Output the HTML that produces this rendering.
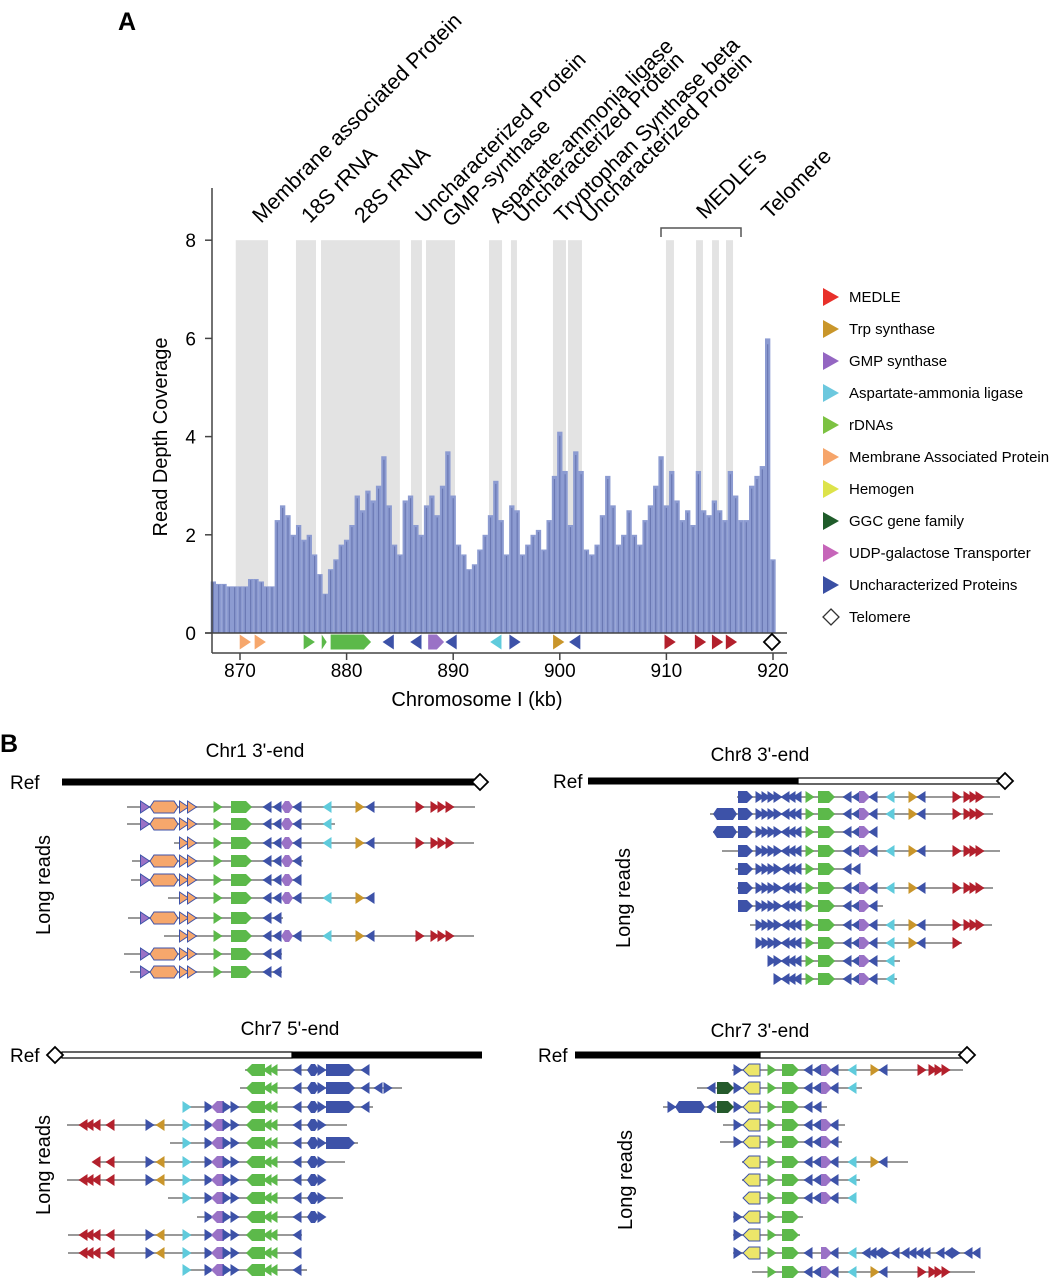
<!DOCTYPE html>
<html><head><meta charset="utf-8">
<style>
html,body{margin:0;padding:0;background:#fff;}
svg{display:block;font-family:"Liberation Sans",sans-serif;}
</style></head>
<body>
<svg id="fig" width="1063" height="1280" viewBox="0 0 1063 1280" xmlns="http://www.w3.org/2000/svg">
<g id="pa"></g>
<g id="pb"></g>
</svg>
<script>
// ---------- Panel A data ----------
const covStart = 867.5; // kb, step 0.5
const coverage = [1.05,1.0,1.0,0.95,0.95,0.95,0.95,1.1,1.1,1.05,0.95,0.95,
2.3,2.6,2.4,2.0,2.2,1.9,2.0,1.6,1.2,0.8,
1.3,1.5,1.8,1.9,2.2,2.8,2.5,2.9,2.7,3.0,3.6,2.6,1.8,1.6,
2.7,2.8,2.2,2.0,2.6,2.8,2.4,3.0,3.7,2.8,1.8,1.6,1.3,1.4,1.7,2.0,2.4,3.1,2.3,1.6,2.6,2.5,1.6,1.8,2.0,2.1,1.7,2.3,3.2,4.1,3.3,2.2,3.7,3.3,1.7,1.6,1.8,2.4,3.2,2.6,1.8,2.0,2.5,2.0,1.8,2.3,2.6,3.0,3.6,2.6,3.3,2.7,2.3,2.5,2.2,3.3,2.5,2.4,2.7,2.5,2.3,3.3,2.8,2.3,2.3,3.0,3.2,3.4,6.0,1.5];
const shadeStart = [869.6,875.25,877.6,886.04,887.45,893.36,895.42,899.36,900.77,909.96,912.78,914.28,915.59];
const shadeEnd   = [872.63,877.13,885.0,887.07,890.17,894.58,895.98,900.58,902.08,910.71,913.43,914.93,916.25];
const yTicks = [0,2,4,6,8];
const xTicks = [870,880,890,900,910,920];
const geneKb =   [870.5,871.9,876.5,877.9,880.35,883.9,886.5,888.35,889.8,894.0,895.8,899.9,901.4,910.35,913.2,914.8,916.1];
const geneType = ['R','R','R','r','BR','L','L','BR','L','L','R','R','L','R','R','R','R'];
const geneCol =  ['or','or','gr','gr','gr','bl','bl','pu','bl','cy','bl','go','bl','rd','rd','rd','rd'];
const geneW =    [0,0,0,0,1.85,0,0,0.7,0,0,0,0,0,0,0,0,0];
const labelText = ["Membrane associated Protein","18S rRNA","28S rRNA","Uncharacterized Protein","GMP-synthase","Aspartate-ammonia ligase","Uncharacterized Protein","Tryptophan Synthase beta","Uncharacterized Protein","MEDLE's","Telomere"];
const labelX = [261,310,363,424,451,498,522,563,590,705,770];
const labelY = [224,224,224,224,228,224,224,224,224,220,220];
const legendText = ["MEDLE","Trp synthase","GMP synthase","Aspartate-ammonia ligase","rDNAs","Membrane Associated Protein","Hemogen","GGC gene family","UDP-galactose Transporter","Uncharacterized Proteins","Telomere"];
const legendCol = ["#e8302a","#c9962a","#9466c2","#6cc8de","#7cc242","#f6a56a","#dde34a","#1f5c2a","#c665b9","#3a4fa3",null];

const COL = {bl:'#3d52a8',gr:'#5cb94a',pu:'#9a72c6',cy:'#5fcbdc',go:'#c9952a',rd:'#b3202c',or:'#f6a76c',ye:'#ede66a',dg:'#255a2c'};
const NS='http://www.w3.org/2000/svg';
function mk(tag,attrs,parent){const e=document.createElementNS(NS,tag);for(const k in attrs)e.setAttribute(k,attrs[k]);parent.appendChild(e);return e;}
const xs = kb => 240 + (kb-870)*10.66;
const ys = v => 633 - v*49.1;
const pa = document.getElementById('pa');

let t = mk('text',{x:118,y:30,'font-size':25,'font-weight':'bold'},pa); t.textContent='A';
 

shadeStart.forEach((s,i)=>{
  const r=mk('rect',{x:xs(s),y:ys(8),width:xs(shadeEnd[i])-xs(s),height:ys(0)-ys(8),fill:'#e3e3e3'},pa);
   
});
const bw = 0.5*10.66;
coverage.forEach((v,i)=>{
  const kb = covStart + i*0.5 - 0.25;
  const r=mk('rect',{x:xs(kb),y:ys(v),width:bw,height:ys(0)-ys(v),fill:'#8c9bd1'},pa);
   
  mk('line',{x1:xs(kb)+bw*0.5,x2:xs(kb)+bw*0.5,y1:ys(v*0.98),y2:ys(0),stroke:'#6a78b3','stroke-width':1.2},pa);
});
mk('line',{x1:212,y1:188,x2:212,y2:653,stroke:'#444','stroke-width':1.5},pa);
mk('line',{x1:205,y1:633,x2:787,y2:633,stroke:'#444','stroke-width':1.5},pa);
mk('line',{x1:212,y1:653,x2:787,y2:653,stroke:'#444','stroke-width':1.5},pa);
yTicks.forEach(v=>{
  mk('line',{x1:205,x2:212,y1:ys(v),y2:ys(v),stroke:'#444','stroke-width':1.5},pa);
  const tt=mk('text',{x:196,y:ys(v)+7,'font-size':19,'text-anchor':'end'},pa); tt.textContent=v;
   
});
xTicks.forEach(v=>{
  mk('line',{x1:xs(v),x2:xs(v),y1:653,y2:660,stroke:'#444','stroke-width':1.5},pa);
  const tt=mk('text',{x:xs(v),y:677,'font-size':19,'text-anchor':'middle'},pa); tt.textContent=v;
   
});
t=mk('text',{x:477,y:706,'font-size':20,'text-anchor':'middle'},pa); t.textContent='Chromosome I (kb)';
 
t=mk('text',{x:0,y:0,'font-size':20,'text-anchor':'middle',transform:'translate(167,437) rotate(-90)'},pa); t.textContent='Read Depth Coverage';
 

function glyph(parent,type,x,y,col,w,outline,sc){
  sc=sc||1;
  const h=6*sc, a=4.5*sc; let d;
  if(type==='R') d=`M${x-a},${y-h}L${x+a},${y}L${x-a},${y+h}Z`;
  else if(type==='r') d=`M${x-2*sc},${y-h}L${x+2*sc},${y}L${x-2*sc},${y+h}Z`;
  else if(type==='L') d=`M${x+a},${y-h}L${x-a},${y}L${x+a},${y+h}Z`;
  else if(type==='BR') d=`M${x-w},${y-h}L${x+w-5*sc},${y-h}L${x+w+1},${y}L${x+w-5*sc},${y+h}L${x-w},${y+h}Z`;
  else if(type==='BL') d=`M${x+w},${y-h}L${x-w+5*sc},${y-h}L${x-w-1},${y}L${x-w+5*sc},${y+h}L${x+w},${y+h}Z`;
  else if(type==='H') d=`M${x-w},${y}L${x-w+4},${y-h}L${x+w-4},${y-h}L${x+w},${y}L${x+w-4},${y+h}L${x-w+4},${y+h}Z`;
  else if(type==='D') d=`M${x},${y-8}L${x+8},${y}L${x},${y+8}L${x-8},${y}Z`;
  return mk('path',{d:d,fill:type==='D'?'#fff':col,stroke:outline?'#3d52a8':(type==='D'?'#000':'none'),'stroke-width':type==='D'?1.8:1},parent);
}
geneKb.forEach((kb,i)=>{
  const p=glyph(pa,geneType[i],xs(kb),642,COL[geneCol[i]],geneW[i]*10.66,0,1.25);
   
});
t=glyph(pa,'D',xs(919.9),642,null,0);  

labelText.forEach((s,i)=>{
  const tt=mk('text',{x:labelX[i],y:labelY[i],'font-size':21.5,transform:`rotate(-45 ${labelX[i]} ${labelY[i]})`},pa); tt.textContent=s;
   
});
t=mk('path',{d:'M661,237V228H741V237',fill:'none',stroke:'#555','stroke-width':1.5},pa);
 

legendText.forEach((s,i)=>{
  const y=297+i*32;
  let m;
  if(legendCol[i]) m=mk('path',{d:`M823,${y-9}L839,${y}L823,${y+9}Z`,fill:legendCol[i]},pa);
  else m=mk('path',{d:`M831,${y-8}L839,${y}L831,${y+8}L823,${y}Z`,fill:'#fff',stroke:'#333','stroke-width':1.3},pa);
   
  const tt=mk('text',{x:849,y:y+5,'font-size':15},pa); tt.textContent=s;
   
});

// ---------- Panel B ----------
const pb=document.getElementById('pb');
t=mk('text',{x:0,y:752,'font-size':25,'font-weight':'bold'},pb); t.textContent='B';
 

const tplChr1 = [['R',145,0,'pu',1],['H',164,14,'or',1],['R',184,0,'or',1],['R',192,0,'or',1],['R',218,0,'gr'],['BR',241,10,'gr'],['L',267,0,'bl'],['L',277,0,'bl'],['H',287,6,'pu'],['L',297,0,'bl'],['L',327,0,'cy'],['R',360,0,'go'],['L',370,0,'bl'],['R',420,0,'rd'],['R',435,0,'rd'],['R',442,0,'rd'],['R',450,0,'rd']];
const readsChr1 = [[127,475,807],[127,335,824],[174,474,843],[132,303,861],[131,299,880],[168,374,898],[128,283,918],[164,474,936],[124,282,954],[130,282,972]];
const tplChr8 = [['H',725,12,'bl'],['BR',745,7,'bl'],['R',760,0,'bl'],['R',766,0,'bl'],['R',772,0,'bl'],['R',778,0,'bl'],['L',785,0,'bl'],['L',791,0,'bl'],['L',797,0,'bl'],['R',810,0,'gr'],['BR',826,8,'gr'],['L',847,0,'bl'],['L',856,0,'bl'],['BR',864,5,'pu'],['L',873,0,'bl'],['L',890,0,'cy'],['R',913,0,'go'],['L',921,0,'bl'],['R',957,0,'rd'],['R',968,0,'rd'],['R',974,0,'rd'],['R',980,0,'rd']];
const readsChr8 = [[737,1000,797],[710,993,814],[713,873,832],[722,1000,851],[735,860,869],[737,993,888],[738,883,906],[750,992,925],[758,962,943],[770,900,961],[775,897,979]];
const tplChr7a = [['L',83,0,'rd'],['L',89,0,'rd'],['L',96,0,'rd'],['L',110,0,'rd'],['R',150,0,'bl'],['L',160,0,'go'],['R',187,0,'cy'],['R',209,0,'bl'],['BL',218,6,'pu'],['R',227,0,'bl'],['R',235,0,'bl'],['BL',256,9,'gr'],['L',267,0,'gr'],['L',273,0,'gr'],['L',297,0,'bl'],['H',313,6,'bl'],['R',322,0,'bl'],['BR',340,14,'bl'],['L',365,0,'bl'],['L',378,0,'bl'],['R',388,0,'bl']];
const readsChr7a = [[245,367,1070],[240,402,1088],[188,373,1107],[67,347,1125],[170,358,1143],[95,345,1162],[67,325,1180],[168,343,1198],[197,325,1217],[68,302,1235],[68,297,1253],[185,307,1270]];
const tplChr7b = [['R',672,0,'bl'],['H',690,15,'bl'],['L',711,0,'bl'],['BR',725,8,'dg'],['R',738,0,'bl'],['BL',752,8,'ye',1],['R',772,0,'gr'],['BR',790,8,'gr'],['L',808,0,'bl'],['L',817,0,'bl'],['BR',826,5,'pu'],['L',834,0,'bl'],['L',852,0,'cy'],['R',875,0,'go'],['L',883,0,'bl'],['R',922,0,'rd'],['R',933,0,'rd'],['R',939,0,'rd'],['R',946,0,'rd']];
const tplChr7bAlt = [['R',738,0,'bl'],['BL',752,8,'ye',1],['R',772,0,'gr'],['BR',790,8,'gr'],['L',808,0,'bl'],['BR',826,5,'pu'],['L',834,0,'bl'],['L',852,0,'cy'],['L',866,0,'bl'],['L',872,0,'bl'],['L',878,0,'bl'],['R',886,0,'bl'],['L',895,0,'bl'],['L',905,0,'bl'],['L',912,0,'bl'],['L',919,0,'bl'],['L',926,0,'bl'],['L',940,0,'bl'],['L',948,0,'bl'],['R',956,0,'bl'],['L',968,0,'bl'],['L',976,0,'bl']];
const readsChr7b = [[732,963,1070],[697,862,1088],[663,827,1107],[723,845,1125],[720,842,1142],[742,908,1162],[742,860,1180],[745,855,1198],[733,803,1217],[733,800,1235],[733,978,1253,1],[752,975,1272]];

function panel(title,tx,ty,refY,blackX0,blackX1,whiteX0,whiteX1,diaX,refLabelX,lrX,lrY,tpl,reads,alt){
  const g=mk('g',{},pb);
   
  let tt=mk('text',{x:tx,y:ty,'font-size':19,'text-anchor':'middle'},g); tt.textContent=title;
   
  tt=mk('text',{x:refLabelX,y:refY+7,'font-size':19},g); tt.textContent='Ref';
   
  if(whiteX1>whiteX0){ const w=mk('rect',{x:whiteX0,y:refY-3,width:whiteX1-whiteX0,height:6,fill:'#fff',stroke:'#000','stroke-width':1.2},g);
      }
  const b=mk('rect',{x:blackX0,y:refY-3.5,width:blackX1-blackX0,height:7,fill:'#000'},g);
   
  const d=glyph(g,'D',diaX,refY,null,0);  
  tt=mk('text',{x:0,y:0,'font-size':20,'text-anchor':'middle',transform:`translate(${lrX},${lrY}) rotate(-90)`},g); tt.textContent='Long reads';
   
  reads.forEach(r=>{
    const rg=mk('g',{},g);
     
    mk('line',{x1:r[0],x2:r[1],y1:r[2],y2:r[2],stroke:'#999','stroke-width':2},rg);
    const items = r[3]?alt:tpl;
    items.forEach(it=>{
      if(it[1]-it[2]>=r[0]-2 && it[1]+it[2]<=r[1]+2){
        glyph(rg,it[0],it[1],r[2],COL[it[3]],it[2],it[4]);
      }
    });
  });
}
panel("Chr1 3'-end",255,757,782,62,477,0,0,480,10,50,885,tplChr1,readsChr1);
panel("Chr8 3'-end",760,761,781,588,798,798,1000,1005,553,630,898,tplChr8,readsChr8);
panel("Chr7 5'-end",290,1035,1055,292,482,62,292,55,10,50,1165,tplChr7a,readsChr7a);
panel("Chr7 3'-end",760,1037,1055,575,760,760,962,967,538,632,1180,tplChr7b,readsChr7b,tplChr7bAlt);
</script>
</body></html>
